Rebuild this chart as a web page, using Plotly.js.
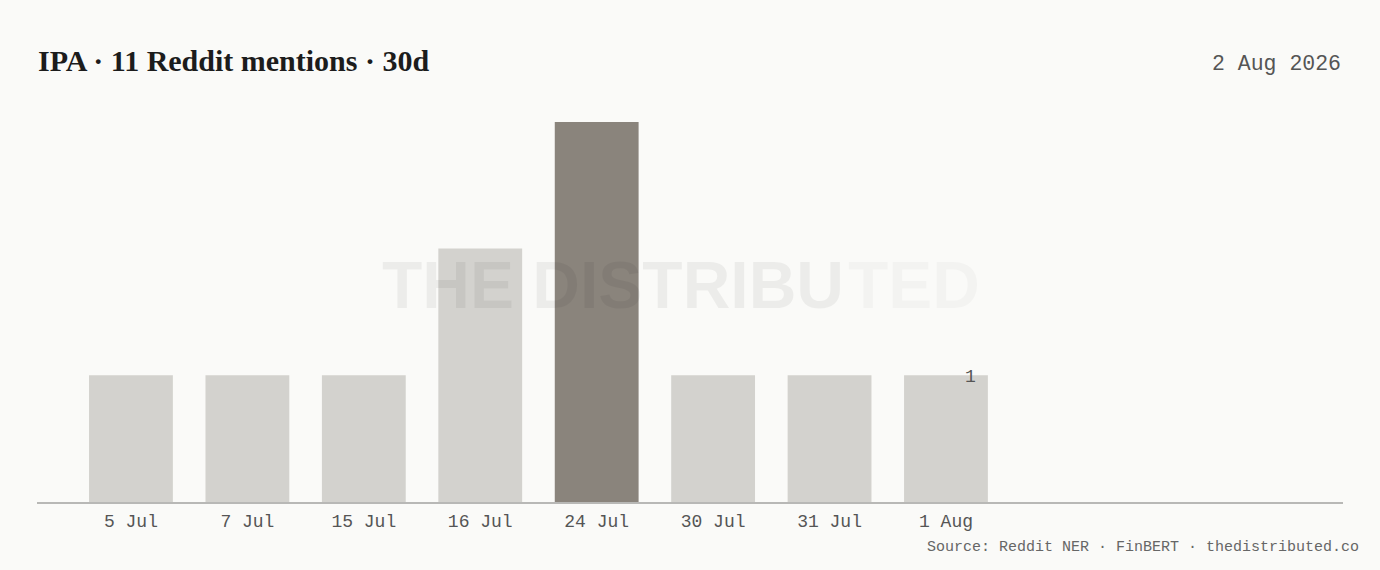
<!DOCTYPE html>
<html>
<head>
<meta charset="utf-8">
<script src="https://cdn.plot.ly/plotly-3.0.1.min.js"></script>
<style>
html,body{margin:0;padding:0;background:#fafaf8;}
#chart{width:1380px;height:570px;}
</style>
</head>
<body>
<div id="chart"></div>
<script>
const categories = ['5 Jul','7 Jul','15 Jul','16 Jul','24 Jul','30 Jul','31 Jul','1 Aug'];
const mentions = [1, 1, 1, 2, 3, 1, 1, 1];
const peakLabel = '24 Jul';
const latestLabel = '1 Aug';
const latestValue = 1;
const titleText = 'IPA · 11 Reddit mentions · 30d';
const dateText = '2 Aug 2026';
const sourceText = 'Source: Reddit NER · FinBERT · thedistributed.co';
const watermarkHead = 'THE DISTRIBU';
const watermarkTail = 'TED';

const barColors = categories.map(c => c === peakLabel ? '#8a847c' : '#d3d2ce');
const mono = '"Liberation Mono", "DejaVu Sans Mono", monospace';
const wmFont = '"Liberation Sans", Arial, sans-serif';
const wmSplitX = (846 - 37) / 1306;
const wmY = (502 - 285) / 412;

const trace = {
  type: 'bar',
  x: categories,
  y: mentions,
  width: 0.72,
  marker: {color: barColors, line: {width: 0}},
  hoverinfo: 'skip'
};

const layout = {
  width: 1380, height: 570,
  paper_bgcolor: '#fafaf8', plot_bgcolor: '#fafaf8',
  margin: {l: 37, r: 37, t: 90, b: 68},
  showlegend: false,
  title: {
    text: titleText,
    xref: 'container', yref: 'container',
    x: 38/1380, xanchor: 'left',
    y: 1 - 60/570, yanchor: 'middle',
    font: {family: '"Liberation Serif", "DejaVu Serif", serif', size: 30, color: '#1c1c1c', weight: 700}
  },
  xaxis: {
    type: 'category',
    range: [-0.807, 10.41],
    showgrid: false, zeroline: false,
    showline: true, linecolor: '#b8b8b6', linewidth: 1.5,
    ticks: '', ticklabelstandoff: 2,
    tickfont: {family: mono, size: 18, color: '#555555'},
    fixedrange: true
  },
  yaxis: {
    range: [0, 3.252],
    showgrid: false, zeroline: false, showline: false,
    showticklabels: false, ticks: '',
    fixedrange: true
  },
  annotations: [
    {
      text: dateText, xref: 'paper', yref: 'paper',
      x: 1, xanchor: 'right', y: (502-64)/412, yanchor: 'middle',
      showarrow: false,
      font: {family: mono, size: 21.5, color: '#555555'}
    },
    {
      text: sourceText, xref: 'paper', yref: 'paper',
      x: (1361-37)/1306, xanchor: 'right', y: (502-547)/412, yanchor: 'middle',
      showarrow: false,
      font: {family: mono, size: 15, color: '#666666'}
    },
    {
      text: String(latestValue), xref: 'x', yref: 'y',
      x: latestLabel, y: latestValue, xshift: 25, yshift: -2, yanchor: 'middle',
      showarrow: false,
      font: {family: mono, size: 18, color: '#555555'}
    },
    {
      text: watermarkHead, xref: 'paper', yref: 'paper',
      x: wmSplitX, xanchor: 'right', y: wmY, yanchor: 'middle',
      showarrow: false,
      font: {family: wmFont, size: 66, color: 'rgba(0,0,0,0.055)', weight: 700}
    },
    {
      text: watermarkTail, xref: 'paper', yref: 'paper',
      x: wmSplitX, xanchor: 'left', y: wmY, yanchor: 'middle',
      showarrow: false,
      font: {family: wmFont, size: 66, color: 'rgba(0,0,0,0.028)', weight: 700}
    }
  ]
};

Plotly.newPlot('chart', [trace], layout, {displayModeBar: false, staticPlot: true});
</script>
</body>
</html>
